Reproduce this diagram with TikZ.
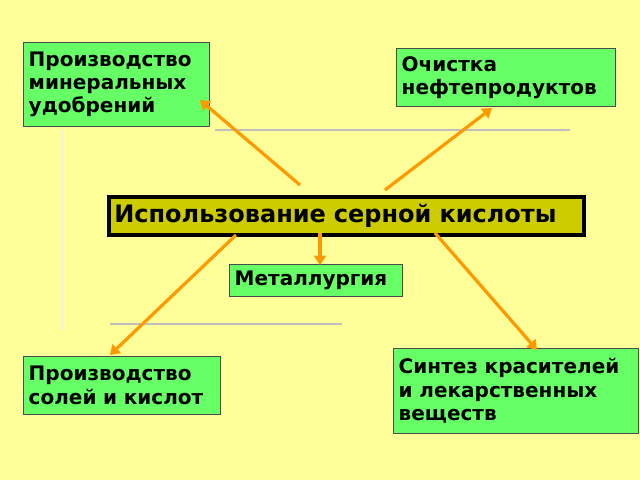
\documentclass[tikz,border=0pt]{standalone}
\usepackage{fontspec}
\setmainfont{DejaVu Sans}
\usetikzlibrary{arrows.meta}
\definecolor{bg}{HTML}{FFFF99}
\definecolor{gbox}{HTML}{66FF66}
\definecolor{ybox}{HTML}{CCCC00}
\definecolor{arr}{HTML}{FF9900}
\tikzset{
 gnode/.style={draw=black!70, fill=gbox, line width=0.6pt, inner xsep=4pt, inner ysep=3pt, align=left, anchor=north west, font=\bfseries\fontsize{15}{17.5}\selectfont},
 link/.style={draw=arr, line width=2.4pt, -{Triangle[length=7pt,width=9pt]}},
 deco/.style={draw=black!25, line width=2pt}
}
\begin{document}
\begin{tikzpicture}[x=0.75pt,y=-0.75pt]
\useasboundingbox (0,0) rectangle (640,480);
\fill[bg] (0,0) rectangle (640,480);
\draw[deco] (215,130) -- (570,130);
\draw[deco] (110,324) -- (342,324);
\draw[black!6, line width=1pt] (62,130) -- (62,330);
\node[gnode, text width=175*0.75pt, minimum height=84*0.75pt] (a) at (23,42) {Производство\\минеральных\\удобрений};
\node[gnode, text width=208*0.75pt, minimum height=58*0.75pt] (b) at (396,48) {Очистка\\нефтепродуктов};
\node[draw=black, line width=3pt, fill=ybox, anchor=north west, text width=464*0.75pt, minimum height=38*0.75pt, inner xsep=4pt, align=left, font=\bfseries\fontsize{18}{20}\selectfont] (m) at (107,195) {Использование серной кислоты};
\node[gnode, text width=162*0.75pt, minimum height=32*0.75pt] (c) at (229,264) {Металлургия};
\node[gnode, text width=186*0.75pt, minimum height=58*0.75pt] (d) at (23,356) {Производство\\солей и кислот};
\node[gnode, text width=234*0.75pt, minimum height=85*0.75pt] (e) at (393,348) {Синтез красителей\\и лекарственных\\веществ};
\coordinate (s1) at (300,185); \coordinate (t1) at (200,100);
\coordinate (s2) at (385,190); \coordinate (t2) at (492,108);
\coordinate (s3) at (320,233); \coordinate (t3) at (320,265);
\coordinate (s4) at (236,235); \coordinate (t4) at (110,355);
\coordinate (s5) at (435,233); \coordinate (t5) at (537,350);
\draw[link] (s1) -- (t1);
\draw[link] (s2) -- (t2);
\draw[link] (s3) -- (t3);
\draw[link] (s4) -- (t4);
\draw[link] (s5) -- (t5);
\end{tikzpicture}
\end{document}
